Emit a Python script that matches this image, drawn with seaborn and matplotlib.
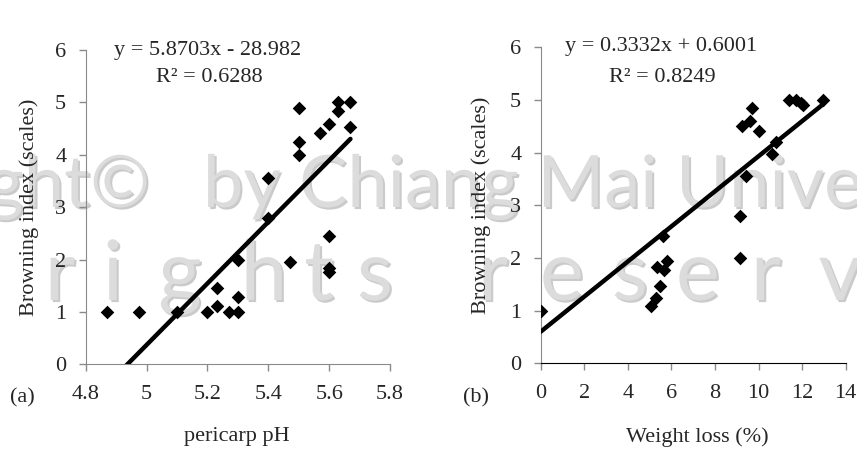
import numpy as np
import pandas as pd
import matplotlib
matplotlib.use("Agg")
import matplotlib.pyplot as plt
import matplotlib.patheffects as pe
import seaborn as sns

# (a) browning index vs pericarp pH
ph = [4.87, 4.975, 5.10, 5.20, 5.23, 5.23, 5.27, 5.30, 5.30, 5.30,
      5.40, 5.40, 5.47, 5.50, 5.50, 5.50, 5.57, 5.60, 5.60, 5.60,
      5.60, 5.63, 5.63, 5.67, 5.67]
browning_a = [1.0, 1.0, 1.0, 1.0, 1.45, 1.12, 1.0, 1.0, 1.28, 2.0,
              2.8, 3.55, 1.96, 4.0, 4.25, 4.9, 4.42, 4.58, 2.45, 1.83,
              1.77, 5.0, 4.84, 5.0, 4.53]

# (b) browning index vs weight loss
weight_loss = [0.0, 5.06, 5.29, 5.47, 5.32, 5.68, 5.82, 5.62, 9.17, 9.17,
               9.25, 9.42, 9.62, 9.68, 10.0, 10.62, 10.82, 11.42, 11.74, 11.95,
               12.02, 12.96]
browning_b = [1.0, 1.09, 1.24, 1.47, 1.82, 1.77, 1.94, 2.42, 2.0, 2.79,
              4.5, 3.56, 4.6, 4.85, 4.42, 3.98, 4.2, 5.0, 5.0, 4.95,
              4.9, 5.0]

# trendlines printed on the chart
slope_a, icept_a, r2_a = 5.8703, -28.982, 0.6288
slope_b, icept_b, r2_b = 0.3332, 0.6001, 0.8249

xticks_a = [4.8, 5.0, 5.2, 5.4, 5.6, 5.8]
xlabels_a = ["4.8", "5", "5.2", "5.4", "5.6", "5.8"]
xticks_b = [0, 2, 4, 6, 8, 10, 12, 14]
yticks = [0, 1, 2, 3, 4, 5, 6]

# spaced-out watermark row ("rights reserv...") and where each letter sits (px)
wm_letters = list("rights") + list("reserv")
wm_centers = [60, 113, 180, 264, 319, 375, 493, 562, 630, 698, 766, 840]

sns.set_style("white")
plt.rcParams['font.family'] = ['Liberation Serif', 'DejaVu Serif']
plt.rcParams['font.size'] = 16

W, H = 857, 453
fig = plt.figure(figsize=(W / 100, H / 100), dpi=100)
GRAY = "#8a8a8a"

# faint copyright watermark behind the charts
shadow = [pe.withSimplePatchShadow(offset=(1.5, -1.5), shadow_rgbFace="#cacaca", alpha=1)]
wm = dict(color="#dcdcdc", family="Lato", zorder=-5, va="baseline", path_effects=shadow)
fig.text(150 / W, 1 - 207 / H, "Copyright©", ha="right", fontsize=52, **wm)
fig.text(203 / W, 1 - 207 / H, "by Chiang Mai University", ha="left", fontsize=52, **wm)
for ch, cx in zip(wm_letters, wm_centers):
    fig.text(cx / W, 1 - 300 / H, ch, ha="center", fontsize=60, **wm)


def panel(rect, x, y, slope, icept, xlim, xticks, xlabels, xcolor):
    ax = fig.add_axes(rect)
    ax.set_facecolor("none")
    sns.scatterplot(x=x, y=y, marker="D", color="black", s=48,
                    edgecolor="black", linewidth=0, ax=ax, zorder=3)
    fit = pd.DataFrame({"x": [min(x), max(x)]})
    fit["y"] = slope * fit["x"] + icept
    sns.lineplot(data=fit, x="x", y="y", color="black", lw=3.2, ax=ax, zorder=4)
    ax.set_xlim(*xlim)
    ax.set_ylim(0, 6)
    ax.set_xticks(xticks)
    ax.set_xticklabels(xlabels)
    ax.set_yticks(yticks)
    sns.despine(ax=ax)
    ax.spines["left"].set_color(GRAY)
    ax.spines["bottom"].set_color(xcolor)
    ax.tick_params(axis="y", direction="out", length=5, width=1, color=GRAY,
                   pad=9, labelsize=16, left=True)
    ax.tick_params(axis="x", direction="out", length=5, width=1, color=GRAY,
                   pad=10, labelsize=16, bottom=True)
    ax.set_xlabel("")
    ax.set_ylabel("Browning index (scales)", fontsize=16)
    return ax


ax_a = panel([85.7 / W, 1 - 364.3 / H, 304.3 / W, 314.3 / H], ph, browning_a,
             slope_a, icept_a, (4.8, 5.8), xticks_a, xlabels_a, GRAY)
ax_a.yaxis.set_label_coords(-0.153, 0.5)

ax_b = panel([540.7 / W, 1 - 363.3 / H, 305 / W, 316 / H], weight_loss, browning_b,
             slope_b, icept_b, (0, 14), xticks_b, [str(t) for t in xticks_b], "black")
ax_b.yaxis.set_label_coords(-0.163, 0.5)

# equations
fig.text(208 / W, 1 - 51 / H, f"y = {slope_a}x - {abs(icept_a)}", ha="center", va="center")
fig.text(209 / W, 1 - 78 / H, f"R² = {r2_a}", ha="center", va="center")
fig.text(661 / W, 1 - 47 / H, f"y = {slope_b}x + {icept_b}", ha="center", va="center")
fig.text(662 / W, 1 - 77 / H, f"R² = {r2_b}", ha="center", va="center")

# panel letters and x titles
fig.text(22 / W, 1 - 398 / H, "(a)", ha="center", va="center")
fig.text(476 / W, 1 - 398 / H, "(b)", ha="center", va="center")
fig.text(237 / W, 1 - 437 / H, "pericarp pH", ha="center", va="center")
fig.text(697 / W, 1 - 437 / H, "Weight loss (%)", ha="center", va="center")

fig.savefig("out.png", dpi=100)
